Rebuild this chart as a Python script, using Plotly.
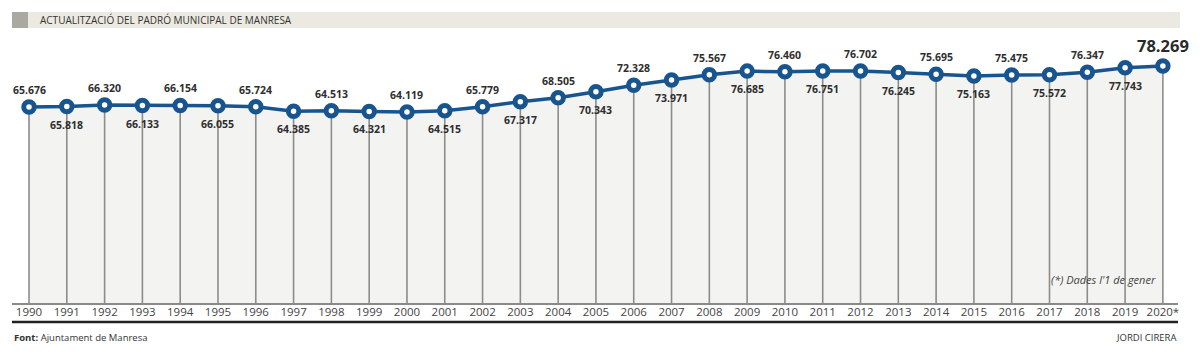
import plotly.graph_objects as go

years = list(range(1990, 2021))
population = [65676, 65818, 66320, 66133, 66154, 66055, 65724, 64385, 64513, 64321,
              64119, 64515, 65779, 67317, 68505, 70343, 72328, 73971, 75567, 76685,
              76460, 76751, 76702, 76245, 75695, 75163, 75475, 75572, 76347, 77743,
              78269]
tick_labels = [str(y) for y in years[:-1]] + ["2020*"]

title = "ACTUALITZACIÓ DEL PADRÓ MUNICIPAL DE MANRESA"
source = "<b>Font:</b> Ajuntament de Manresa"
author = "JORDI CIRERA"
note = "(*) Dades l'1 de gener"

Y_MIN, Y_MAX = 5550, 86230
BLUE = "#18558f"
NARROW = "Liberation Sans Narrow, Arial Narrow, Open Sans, sans-serif"

def fmt(v):
    return f"{v:,}".replace(",", ".")

fig = go.Figure()

# light area under curve
fig.add_trace(go.Scatter(x=years, y=population, mode="lines", fill="tozeroy",
                         fillcolor="#f3f3f1", line=dict(width=0), hoverinfo="skip",
                         showlegend=False))

# drop lines
dx, dy = [], []
for yr, v in zip(years, population):
    dx += [yr, yr, None]
    dy += [v, Y_MIN, None]
fig.add_trace(go.Scatter(x=dx, y=dy, mode="lines", line=dict(color="#8c8c8c", width=1.6),
                         hoverinfo="skip", showlegend=False))

# main line with ring markers
fig.add_trace(go.Scatter(x=years, y=population, mode="lines+markers",
                         line=dict(color=BLUE, width=3.5),
                         marker=dict(size=10.5, color="white", line=dict(color=BLUE, width=5)),
                         showlegend=False))

annotations = []
for i, (yr, v) in enumerate(zip(years, population)):
    if i == len(years) - 1:
        annotations.append(dict(x=yr, y=v, text=f"<b>{fmt(v)}</b>", showarrow=False,
                                yshift=20, font=dict(family="Open Sans, sans-serif", size=16.5, color="#2a2a2a")))
    elif i % 2 == 0:
        annotations.append(dict(x=yr, y=v, text=f"<b>{fmt(v)}</b>", showarrow=False,
                                yshift=17, font=dict(family="Open Sans, sans-serif", size=10.5, color="#2e2e2e")))
    else:
        annotations.append(dict(x=yr, y=v, text=f"<b>{fmt(v)}</b>", showarrow=False,
                                yshift=-18, font=dict(family="Open Sans, sans-serif", size=10.5, color="#2e2e2e")))

# page offset of the figure (browser default body margin)
OFF = 8
# plot area in page pixels: x 12..1178, y 40..303
PL, PR, PT, PB = 12, 1178, 40, 303
W, H = PR - PL, PB - PT
FW, FH = 1200 - OFF, 355 - OFF
def px(xp):
    return (xp - PL) / W
def py(yp):
    return (PB - yp) / H

annotations += [
    dict(xref="paper", yref="paper", x=px(38), y=py(20), text=title, showarrow=False,
         xanchor="left", yanchor="middle", font=dict(family=NARROW, size=10, color="#333")),
    dict(xref="paper", yref="paper", x=px(1158), y=py(279), text=f"<i>{note}</i>", showarrow=False,
         xanchor="right", yanchor="middle", font=dict(family=NARROW, size=11, color="#444")),
    dict(xref="paper", yref="paper", x=px(12), y=py(337), text=source, showarrow=False,
         xanchor="left", yanchor="middle", font=dict(family=NARROW, size=9.5, color="#333")),
    dict(xref="paper", yref="paper", x=px(1178), y=py(337), text=author, showarrow=False,
         xanchor="right", yanchor="middle", font=dict(family=NARROW, size=9.5, color="#333")),
]

shapes = [
    dict(type="rect", xref="paper", yref="paper", x0=px(28), x1=px(1180), y0=py(28), y1=py(12),
         fillcolor="#ebe9e1", line=dict(width=0), layer="below"),
    dict(type="rect", xref="paper", yref="paper", x0=px(12), x1=px(28), y0=py(28), y1=py(12),
         fillcolor="#a9a9a2", line=dict(width=0), layer="below"),
    dict(type="line", xref="paper", yref="paper", x0=0, x1=1, y0=py(322), y1=py(322),
         line=dict(color="#222", width=2.5)),
]

fig.update_layout(
    width=FW, height=FH,
    margin=dict(l=PL - OFF, r=FW - (PR - OFF), t=PT - OFF, b=FH - (PB - OFF), autoexpand=False),
    paper_bgcolor="white", plot_bgcolor="white",
    xaxis=dict(range=[1989.55, 2020.4], tickvals=years, ticktext=tick_labels,
               showgrid=False, zeroline=False, showline=True, linecolor="#8a8a8a", linewidth=2,
               ticks="", ticklabelstandoff=-3,
               tickfont=dict(family=NARROW, size=11.5, color="#444"), fixedrange=True),
    yaxis=dict(range=[Y_MIN, Y_MAX], showgrid=False, zeroline=False, showticklabels=False,
               showline=False, fixedrange=True),
    annotations=annotations, shapes=shapes, showlegend=False,
)

fig.write_html("out.html")
